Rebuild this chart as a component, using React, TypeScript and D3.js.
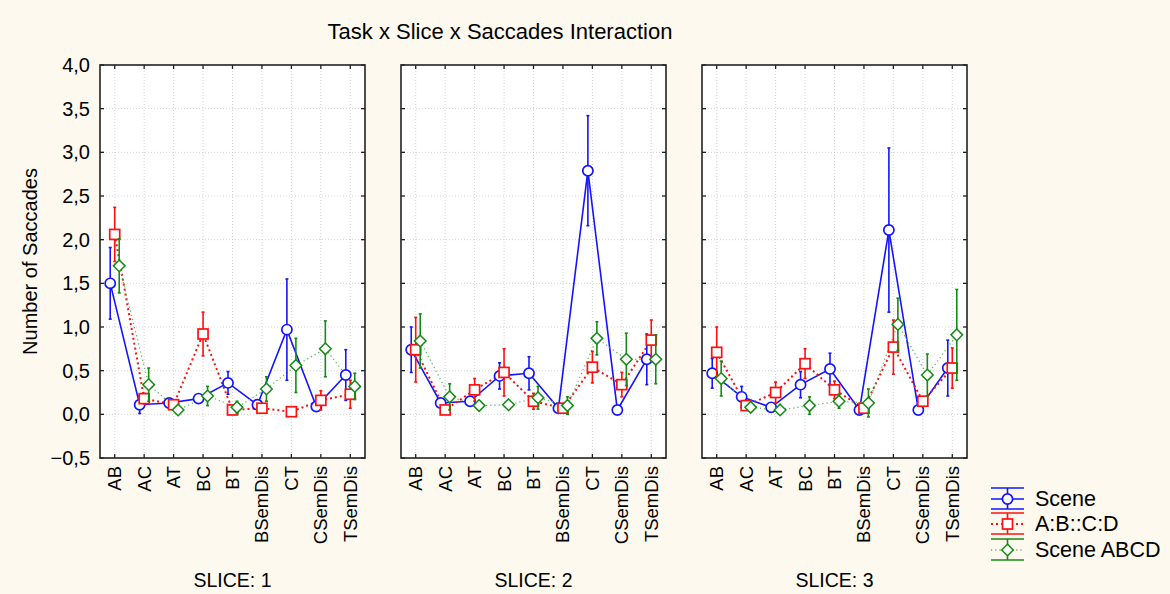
import React, { useEffect, useRef } from 'react'
import * as d3 from 'd3'

const categories = ['AB', 'AC', 'AT', 'BC', 'BT', 'BSemDis', 'CT', 'CSemDis', 'TSemDis']
const sliceLabels = ['SLICE: 1', 'SLICE: 2', 'SLICE: 3']
const yTicks = [-0.5, 0, 0.5, 1, 1.5, 2, 2.5, 3, 3.5, 4]

// means and half-widths of the error bars, one row per slice
const sceneMeans = [
  [1.5, 0.11, 0.13, 0.18, 0.36, 0.11, 0.97, 0.09, 0.45],
  [0.74, 0.13, 0.15, 0.44, 0.47, 0.07, 2.79, 0.05, 0.63],
  [0.47, 0.2, 0.08, 0.34, 0.52, 0.05, 2.11, 0.05, 0.53],
]
const sceneErrs = [
  [0.41, 0.1, 0.03, 0.03, 0.13, 0.03, 0.58, 0.03, 0.29],
  [0.26, 0.04, 0.05, 0.15, 0.19, 0.02, 0.63, 0.02, 0.29],
  [0.17, 0.12, 0.04, 0.15, 0.18, 0.02, 0.94, 0.02, 0.32],
]
const analogyMeans = [
  [2.06, 0.18, 0.11, 0.92, 0.05, 0.07, 0.03, 0.16, 0.23],
  [0.74, 0.05, 0.28, 0.48, 0.15, 0.07, 0.54, 0.34, 0.85],
  [0.71, 0.1, 0.25, 0.58, 0.28, 0.07, 0.77, 0.15, 0.53],
]
const analogyErrs = [
  [0.31, 0.06, 0.02, 0.25, 0.02, 0.02, 0.02, 0.11, 0.16],
  [0.37, 0.02, 0.13, 0.27, 0.09, 0.02, 0.18, 0.14, 0.23],
  [0.29, 0.04, 0.12, 0.17, 0.1, 0.02, 0.31, 0.04, 0.23],
]
const abcdMeans = [
  [1.7, 0.34, 0.05, 0.21, 0.08, 0.29, 0.56, 0.75, 0.32],
  [0.84, 0.2, 0.1, 0.11, 0.19, 0.1, 0.87, 0.63, 0.63],
  [0.41, 0.08, 0.05, 0.1, 0.15, 0.13, 1.03, 0.45, 0.91],
]
const abcdErrs = [
  [0.31, 0.19, 0.02, 0.11, 0.07, 0.14, 0.31, 0.32, 0.15],
  [0.31, 0.15, 0.04, 0.03, 0.13, 0.1, 0.19, 0.3, 0.28],
  [0.2, 0.02, 0.02, 0.1, 0.08, 0.16, 0.3, 0.24, 0.52],
]

const series = [
  { name: 'Scene', means: sceneMeans, errs: sceneErrs, color: '#1414ff', lineColor: '#1414ff', dash: null, lw: 1.6, shape: 'circle', dx: -4.5 },
  { name: 'A:B::C:D', means: analogyMeans, errs: analogyErrs, color: '#ff1010', lineColor: '#ff1010', dash: '2,3', lw: 2, shape: 'square', dx: 0 },
  { name: 'Scene ABCD', means: abcdMeans, errs: abcdErrs, color: '#158a15', lineColor: '#5cb85c', dash: '1.2,3', lw: 1.3, shape: 'diamond', dx: 4.5 },
]

const FONT = '"Liberation Sans", Arial, sans-serif'

function drawMarker(g, shape, x, y, color) {
  if (shape === 'circle') {
    g.append('circle').attr('cx', x).attr('cy', y).attr('r', 5.1)
      .attr('fill', 'white').attr('stroke', color).attr('stroke-width', 1.7)
  } else if (shape === 'square') {
    g.append('rect').attr('x', x - 5).attr('y', y - 5).attr('width', 10).attr('height', 10)
      .attr('fill', 'white').attr('stroke', color).attr('stroke-width', 1.7)
  } else {
    const s = 5.8
    g.append('path').attr('d', `M${x},${y - s}L${x + s},${y}L${x},${y + s}L${x - s},${y}Z`)
      .attr('fill', 'white').attr('stroke', color).attr('stroke-width', 1.5)
  }
}

export default function App() {
  const ref = useRef(null)

  useEffect(() => {
    const width = 1170, height = 594
    const root = d3.select(ref.current)
    root.selectAll('*').remove()
    const svg = root.append('svg')
      .attr('width', width)
      .attr('height', height)
      .style('position', 'absolute')
      .style('left', 0)
      .style('top', 0)
      .style('font-family', FONT)

    svg.append('rect').attr('width', width).attr('height', height).attr('fill', '#fdf9ee')

    const top = 65, bottom = 458
    const y = d3.scaleLinear().domain([-0.5, 4]).range([bottom, top])
    const panelLefts = [100, 401, 702]
    const panelW = 265

    svg.append('text')
      .attr('x', 500).attr('y', 39)
      .attr('text-anchor', 'middle')
      .attr('font-size', 22)
      .text('Task x Slice x Saccades Interaction')

    // y axis labels
    const fmt = d => d3.format('.1f')(d).replace('.', ',')
    svg.append('g').selectAll('text').data(yTicks).join('text')
      .attr('x', 90).attr('y', d => y(d) + 7)
      .attr('text-anchor', 'end')
      .attr('font-size', 20)
      .text(fmt)

    svg.append('text')
      .attr('transform', `translate(37,${(top + bottom) / 2}) rotate(-90)`)
      .attr('text-anchor', 'middle')
      .attr('font-size', 20)
      .text('Number of Saccades')

    panelLefts.forEach((left, si) => {
      const x = d3.scalePoint().domain(categories).range([left, left + panelW]).padding(0.5)
      const g = svg.append('g')

      g.append('rect').attr('x', left).attr('y', top).attr('width', panelW).attr('height', bottom - top)
        .attr('fill', 'white')

      // grid
      g.append('g').selectAll('line').data(yTicks.slice(1, -1)).join('line')
        .attr('x1', left).attr('x2', left + panelW)
        .attr('y1', d => y(d)).attr('y2', d => y(d))
        .attr('stroke', '#c8c8c8').attr('stroke-width', 0.8).attr('stroke-dasharray', '1,2')
      g.append('g').selectAll('line').data(categories).join('line')
        .attr('x1', d => x(d)).attr('x2', d => x(d))
        .attr('y1', top).attr('y2', bottom)
        .attr('stroke', '#c8c8c8').attr('stroke-width', 0.8).attr('stroke-dasharray', '1,2')

      // ticks (inward on all sides)
      const tk = g.append('g').attr('stroke', '#222').attr('stroke-width', 1.3)
      yTicks.forEach(t => {
        tk.append('line').attr('x1', left).attr('x2', left + 4).attr('y1', y(t)).attr('y2', y(t))
        tk.append('line').attr('x1', left + panelW - 4).attr('x2', left + panelW).attr('y1', y(t)).attr('y2', y(t))
      })
      categories.forEach(c => {
        tk.append('line').attr('x1', x(c)).attr('x2', x(c)).attr('y1', top).attr('y2', top + 4)
        tk.append('line').attr('x1', x(c)).attr('x2', x(c)).attr('y1', bottom - 4).attr('y2', bottom)
      })

      g.append('rect').attr('x', left).attr('y', top).attr('width', panelW).attr('height', bottom - top)
        .attr('fill', 'none').attr('stroke', '#222').attr('stroke-width', 1.6)

      // category labels
      g.append('g').selectAll('text').data(categories).join('text')
        .attr('transform', d => `translate(${x(d) + 6.5},${bottom + 8}) rotate(-90)`)
        .attr('text-anchor', 'end')
        .attr('font-size', 18.5)
        .text(d => d)

      g.append('text')
        .attr('x', left + panelW / 2).attr('y', 587)
        .attr('text-anchor', 'middle')
        .attr('font-size', 19.5)
        .text(sliceLabels[si])

      // lines
      series.forEach(s => {
        const line = d3.line()
          .x((d, i) => x(categories[i]) + s.dx)
          .y(d => y(d))
        g.append('path')
          .datum(s.means[si])
          .attr('d', line)
          .attr('fill', 'none')
          .attr('stroke', s.lineColor)
          .attr('stroke-width', s.lw)
          .attr('stroke-dasharray', s.dash)
      })

      // error bars and markers
      series.forEach(s => {
        const eg = g.append('g').attr('stroke', s.color).attr('stroke-width', 1.6)
        s.means[si].forEach((m, i) => {
          const cx = x(categories[i]) + s.dx
          const e = s.errs[si][i]
          eg.append('line').attr('x1', cx).attr('x2', cx).attr('y1', y(m - e)).attr('y2', y(m + e))
          eg.append('line').attr('x1', cx - 1.5).attr('x2', cx + 1.5).attr('y1', y(m - e)).attr('y2', y(m - e))
          eg.append('line').attr('x1', cx - 1.5).attr('x2', cx + 1.5).attr('y1', y(m + e)).attr('y2', y(m + e))
        })
        s.means[si].forEach((m, i) => {
          drawMarker(g, s.shape, x(categories[i]) + s.dx, y(m), s.color)
        })
      })
    })

    // legend
    const legendY = [499, 524, 550]
    const lg = svg.append('g')
    series.forEach((s, i) => {
      const cy = legendY[i]
      const x0 = 991, x1 = 1024, xm = (x0 + x1) / 2
      const gl = lg.append('g').attr('stroke', s.color).attr('stroke-width', 1.6)
      gl.append('line').attr('x1', x0).attr('x2', x1).attr('y1', cy - 11).attr('y2', cy - 11)
      gl.append('line').attr('x1', x0).attr('x2', x1).attr('y1', cy + 10).attr('y2', cy + 10)
      gl.append('line').attr('x1', xm).attr('x2', xm).attr('y1', cy - 11).attr('y2', cy + 10)
      lg.append('line').attr('x1', x0).attr('x2', x1).attr('y1', cy).attr('y2', cy)
        .attr('stroke', s.lineColor).attr('stroke-width', s.lw).attr('stroke-dasharray', s.dash)
      drawMarker(lg, s.shape, xm, cy, s.color)
      lg.append('text').attr('x', 1035).attr('y', cy + 7)
        .attr('font-size', 21.5)
        .text(s.name)
    })
  }, [])

  return <div ref={ref}></div>
}
